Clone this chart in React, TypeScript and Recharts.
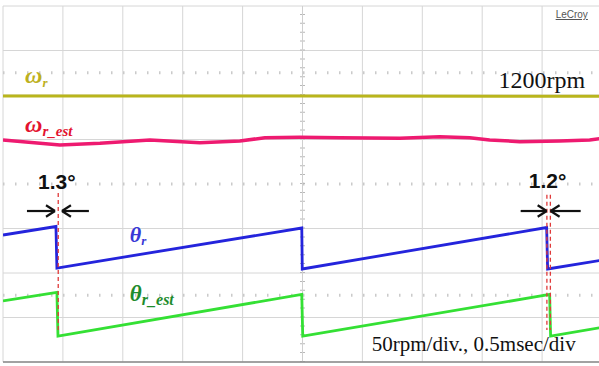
import React from "react";
import { ComposedChart, Line, XAxis, YAxis, CartesianGrid, ReferenceLine, ReferenceDot } from "recharts";

// time axis in ms (0.5 ms/div), vertical axis in scope divisions (8 div)
const TIME_TICKS = [0, 0.5, 1, 1.5, 2, 2.5, 3, 3.5, 4, 4.5, 5];
const DIV_TICKS = [0, 1, 2, 3, 5, 6, 7, 8];
const DOTTED_LEVELS = [1.5, 4, 6.5];

const omegaR = [
  { t: 0, v: 5.98 },
  { t: 2.5, v: 5.98 },
  { t: 5, v: 5.97 },
];

const omegaREst = [
  { t: 0, v: 4.99 },
  { t: 0.475, v: 4.876 },
  { t: 0.809, v: 4.915 },
  { t: 1.226, v: 4.99 },
  { t: 1.643, v: 4.928 },
  { t: 1.977, v: 4.966 },
  { t: 2.186, v: 5.04 },
  { t: 2.477, v: 5.049 },
  { t: 2.811, v: 5.04 },
  { t: 3.312, v: 5.027 },
  { t: 3.645, v: 5.063 },
  { t: 3.896, v: 5.04 },
  { t: 4.062, v: 4.99 },
  { t: 4.313, v: 4.951 },
  { t: 4.646, v: 4.966 },
  { t: 4.897, v: 4.99 },
  { t: 5, v: 5.027 },
];

const thetaR = [
  { t: 0, v: 2.854 },
  { t: 0.442, v: 3.045 },
  { t: 0.45, v: 2.112 },
  { t: 2.494, v: 3.011 },
  { t: 2.498, v: 2.09 },
  { t: 4.538, v: 3.022 },
  { t: 4.546, v: 2.09 },
  { t: 5, v: 2.288 },
];

const thetaREst = [
  { t: 0, v: 1.371 },
  { t: 0.45, v: 1.562 },
  { t: 0.459, v: 0.584 },
  { t: 2.494, v: 1.517 },
  { t: 2.502, v: 0.584 },
  { t: 4.563, v: 1.517 },
  { t: 4.571, v: 0.584 },
  { t: 5, v: 0.78 },
];

// annotation geometry (data coordinates)
const DASH_MARKERS = [
  { t: 0.461, top: 3.8, bottom: 0.72 },
  { t: 4.54, top: 3.76, bottom: 0.72 },
  { t: 4.569, top: 3.76, bottom: 0.72 },
];
const ARROWS = [
  { from: 0.2, to: 0.434, y: 3.393 },
  { from: 0.717, to: 0.492, y: 3.393 },
  { from: 4.321, to: 4.538, y: 3.393 },
  { from: 4.822, to: 4.571, y: 3.393 },
];
const HEAD_LEN = 0.075;
const HEAD_HALF = 0.13;

const ANGLE_LABELS = [
  { t: 0.45, y: 3.888, text: "1.3°" },
  { t: 4.546, y: 3.91, text: "1.2°" },
];

const SERIF = "'Liberation Serif', 'Times New Roman', serif";
const SANS = "'Liberation Sans', Arial, sans-serif";

export default function App() {
  const textDot = (t: number, y: number, render: (x: number, y: number) => React.ReactElement, key: string) => (
    <ReferenceDot
      key={key}
      x={t}
      y={y}
      r={1}
      ifOverflow="visible"
      shape={(p: any) => render(p.cx, p.cy)}
    />
  );

  return (
    <div style={{ position: "absolute", left: 0, top: 0, width: 599, height: 366, overflow: "hidden", background: "#fff" }}>
      <ComposedChart width={605} height={366} margin={{ top: 6, right: 3, bottom: 4, left: 3 }}>
        <XAxis type="number" dataKey="t" domain={[0, 5]} ticks={TIME_TICKS} hide allowDataOverflow />
        <YAxis type="number" domain={[0, 8]} ticks={DIV_TICKS} hide allowDataOverflow />
        <CartesianGrid stroke="#d6d6d6" strokeWidth={1} />
        {DOTTED_LEVELS.map((lv) => (
          <ReferenceLine key={"d" + lv} y={lv} stroke="#cacaca" strokeWidth={3} strokeDasharray="1.5 10.5" />
        ))}
        <ReferenceLine x={2.5} stroke="#b8b8b8" strokeWidth={5} strokeDasharray="1 7.9" />
        <ReferenceLine x={2.5} stroke="#cfcfcf" strokeWidth={1} />
        <ReferenceLine y={0} stroke="#8a8a8a" strokeWidth={1.5} />

        <Line data={omegaR} dataKey="v" stroke="#b9b51c" strokeWidth={3} dot={false} isAnimationActive={false} />
        <Line data={omegaREst} dataKey="v" stroke="#ee1a70" strokeWidth={3.5} dot={false} isAnimationActive={false} />
        <Line data={thetaR} dataKey="v" stroke="#2424dc" strokeWidth={2.8} dot={false} isAnimationActive={false} />
        <Line data={thetaREst} dataKey="v" stroke="#34e034" strokeWidth={2.8} dot={false} isAnimationActive={false} />

        {DASH_MARKERS.map((m, i) => (
          <ReferenceLine
            key={"m" + i}
            segment={[{ x: m.t, y: m.top }, { x: m.t, y: m.bottom }]}
            stroke="#e03a3a"
            strokeWidth={1.3}
            strokeDasharray="4 3"
          />
        ))}
        {ARROWS.map((a, i) => {
          const dir = a.to > a.from ? 1 : -1;
          const back = a.to - dir * HEAD_LEN;
          return [
            <ReferenceLine key={"as" + i} segment={[{ x: a.from, y: a.y }, { x: a.to, y: a.y }]} stroke="#111" strokeWidth={2.2} />,
            <ReferenceLine key={"ah1" + i} segment={[{ x: back, y: a.y + HEAD_HALF }, { x: a.to, y: a.y }]} stroke="#111" strokeWidth={2.2} />,
            <ReferenceLine key={"ah2" + i} segment={[{ x: back, y: a.y - HEAD_HALF }, { x: a.to, y: a.y }]} stroke="#111" strokeWidth={2.2} />,
          ];
        })}

        {ANGLE_LABELS.map((l, i) =>
          textDot(l.t, l.y, (x, y) => (
            <text x={x} y={y} textAnchor="middle" fontFamily={SANS} fontWeight="bold" fontSize={21} fill="#111">
              {l.text}
            </text>
          ), "al" + i)
        )}

        {textDot(0.184, 6.27, (x, y) => (
          <text x={x} y={y} fontFamily={SERIF} fontStyle="italic" fontWeight="bold" fill="#bdb020">
            <tspan fontSize={24}>ω</tspan>
            <tspan fontSize={13} dy={4}>r</tspan>
          </text>
        ), "wr")}
        {textDot(0.184, 5.169, (x, y) => (
          <text x={x} y={y} fontFamily={SERIF} fontStyle="italic" fontWeight="bold" fill="#e3122e">
            <tspan fontSize={24}>ω</tspan>
            <tspan fontSize={15} dy={4}>r_est</tspan>
          </text>
        ), "wre")}
        {textDot(1.059, 2.697, (x, y) => (
          <text x={x} y={y} fontFamily={SERIF} fontStyle="italic" fontWeight="bold" fill="#3838d6">
            <tspan fontSize={22}>θ</tspan>
            <tspan fontSize={13} dy={3}>r</tspan>
          </text>
        ), "tr")}
        {textDot(1.059, 1.371, (x, y) => (
          <text x={x} y={y} fontFamily={SERIF} fontStyle="italic" fontWeight="bold" fill="#1e8c2c">
            <tspan fontSize={23}>θ</tspan>
            <tspan fontSize={16} dy={4}>r_est</tspan>
          </text>
        ), "tre")}

        {textDot(4.137, 6.157, (x, y) => (
          <text x={x} y={y} fontFamily={SERIF} fontSize={24} fill="#111">1200rpm</text>
        ), "rpm")}
        {textDot(3.078, 0.247, (x, y) => (
          <text x={x} y={y} fontFamily={SERIF} fontSize={21} fill="#111">50rpm/div., 0.5msec/div</text>
        ), "scale")}
        {textDot(4.613, 7.73, (x, y) => (
          <text x={x} y={y} fontFamily={SANS} fontSize={10} fill="#555" textDecoration="underline">LeCroy</text>
        ), "lc")}
      </ComposedChart>
    </div>
  );
}
